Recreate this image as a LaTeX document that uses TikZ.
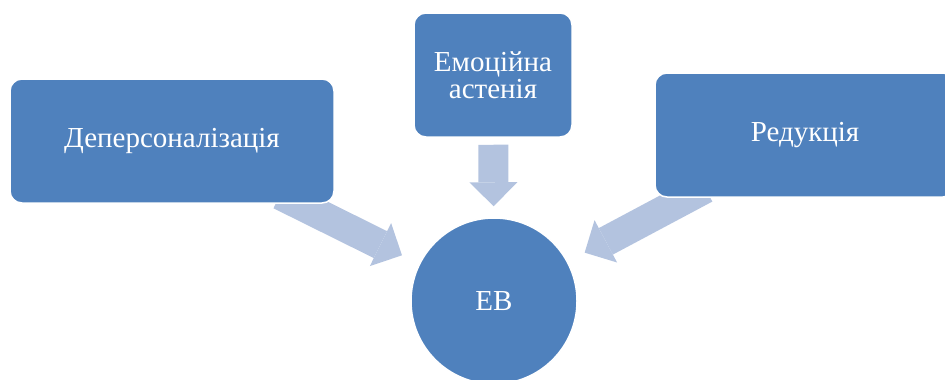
\documentclass[tikz,border=0pt]{standalone}
\usepackage{fontspec}
\setmainfont{Liberation Serif}
\usetikzlibrary{shapes.geometric, arrows.meta, backgrounds}
\definecolor{boxblue}{HTML}{4F81BD}
\definecolor{arrowblue}{HTML}{B3C3DF}
\tikzstyle{block} = [rectangle, rounded corners=12pt, minimum height=124pt, text centered, fill=boxblue, draw=white, line width=1.5pt, text=white, font=\fontsize{29}{27}\selectfont]
\tikzstyle{ebcircle} = [circle, minimum size=166pt, fill=boxblue, draw=white, line width=1.5pt, text=white, font=\fontsize{29}{27}\selectfont]
\tikzstyle{fatarrow} = [line width=30pt, draw=arrowblue, -{Triangle[length=24pt,width=48pt,line width=0pt]}]

\begin{document}
\begin{tikzpicture}[x=1pt,y=-1pt]
               \clip (0,0) rectangle (945,380);
               \node [block, minimum width=324pt] at (172,141) (depers) {Деперсоналізація};
               \node [block, minimum width=158pt, align=center] at (493,75) (asten) {Емоційна\\астенія};
               \node [block, minimum width=300pt] at (805,135) (reduk) {Редукція};
               \node [ebcircle] at (494,301) (eb) {ЕВ};
               \begin{pgfonlayer}{background}
               \draw [fatarrow, shorten <=-20pt, shorten >=19pt] (depers) -- (eb);
               \draw [fatarrow, shorten <=7pt, shorten >=11pt] (asten) -- (eb);
               \draw [fatarrow, shorten <=-20pt, shorten >=19pt] (reduk) -- (eb);
               \end{pgfonlayer}
               \end{tikzpicture}
\end{document}
